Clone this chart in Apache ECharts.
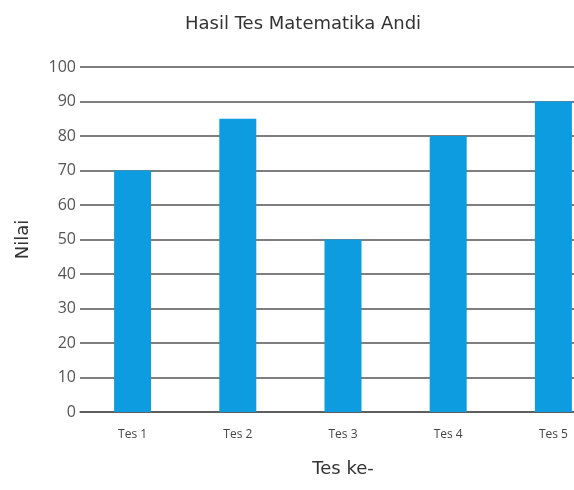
<!DOCTYPE html>
<html>
<head>
<meta charset="utf-8">
<script src="https://cdn.jsdelivr.net/npm/echarts@6/dist/echarts.min.js"></script>
<style>
  html, body { margin: 0; padding: 0; background: #fff; }
  #chart { width: 574px; height: 490px; }
</style>
</head>
<body>
<div id="chart"></div>
<script>
var categories = ["Tes 1", "Tes 2", "Tes 3", "Tes 4", "Tes 5"];
var nilai = [70, 85, 50, 80, 90];

var myChart = echarts.init(document.getElementById("chart"));
var option = {
  animation: false,
  title: {
    text: "Hasil Tes Matematika Andi",
    left: 180,
    top: 10,
    textStyle: {
      fontFamily: "DejaVu Sans",
      fontWeight: "normal",
      fontSize: 18,
      color: "#333"
    }
  },
  grid: {
    left: 80,
    top: 67,
    right: -32,
    bottom: 78,
    outerBoundsMode: "none",
    containLabel: false
  },
  xAxis: {
    type: "category",
    data: categories,
    name: "Tes ke-",
    nameLocation: "middle",
    nameGap: 48,
    nameTextStyle: { fontFamily: "DejaVu Sans", fontSize: 18, color: "#333" },
    axisTick: { show: false },
    axisLine: { lineStyle: { color: "#555", width: 1.5 } },
    axisLabel: { fontFamily: "Open Sans", fontSize: 12, color: "#444", margin: 17 }
  },
  yAxis: {
    type: "value",
    min: 0,
    max: 100,
    interval: 10,
    name: "Nilai",
    nameLocation: "middle",
    nameGap: 48,
    nameTextStyle: { fontFamily: "DejaVu Sans", fontSize: 18, color: "#333" },
    axisLine: { show: false },
    axisTick: { show: false },
    axisLabel: { fontFamily: "Open Sans", fontSize: 16, color: "#555", margin: 4 },
    splitLine: { lineStyle: { color: "#555", width: 1.5 } }
  },
  series: [
    {
      type: "bar",
      data: nilai,
      barWidth: 37,
      itemStyle: { color: "#0d9ce0" }
    }
  ]
};
myChart.setOption(option, true);
</script>
</body>
</html>
